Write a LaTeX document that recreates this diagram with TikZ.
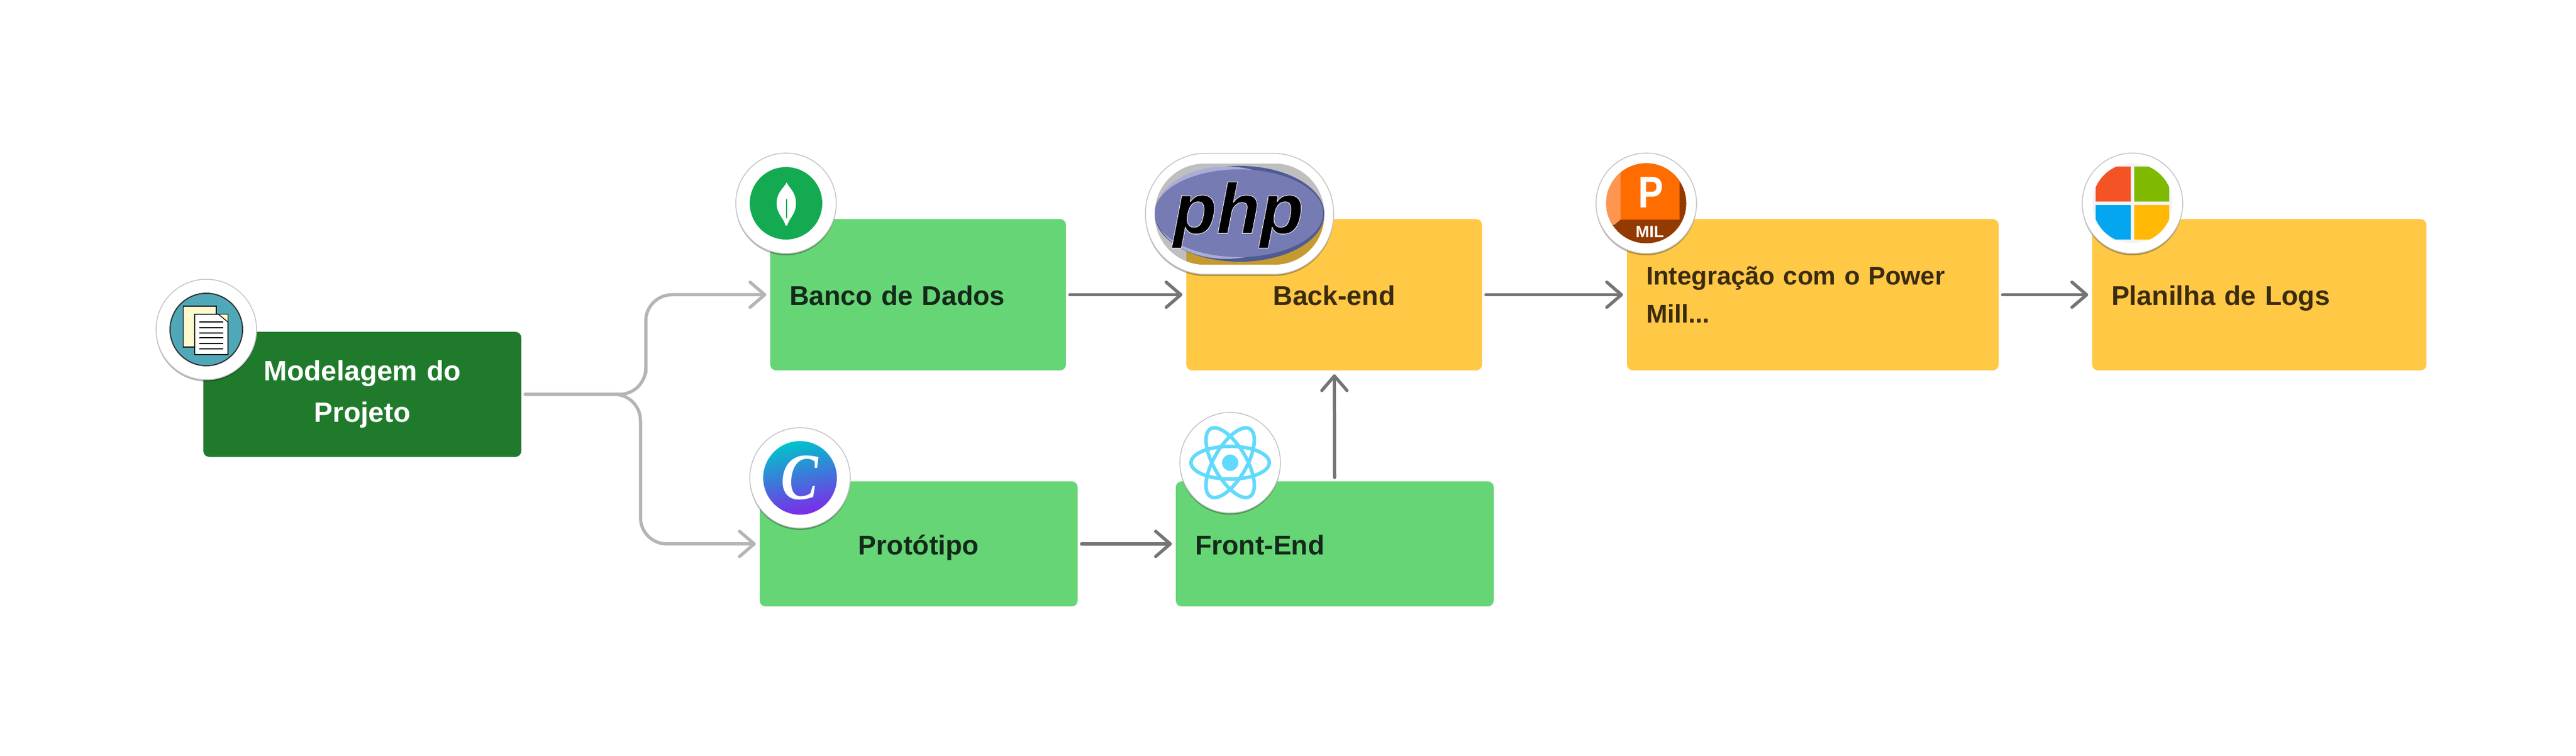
\documentclass[tikz,border=0pt]{standalone}
\usepackage{fontspec}
\setmainfont{Liberation Sans}
\newfontfamily\logofont{Liberation Serif}
\usetikzlibrary{arrows.meta,shadows}
\definecolor{darkbox}{HTML}{207A2C}
\definecolor{greenbox}{HTML}{66D575}
\definecolor{yellowbox}{HTML}{FFC845}
\definecolor{greentext}{HTML}{14291A}
\definecolor{yellowtext}{HTML}{3B2B10}
\definecolor{lightline}{HTML}{B5B5B5}
\definecolor{darkline}{HTML}{757575}
\definecolor{halo}{HTML}{C4C4C4}
\definecolor{phpblue}{HTML}{777BB3}
\definecolor{reactblue}{HTML}{61DAFB}
\definecolor{milorange}{HTML}{FF6D00}
\definecolor{milbrown}{HTML}{933A00}
\tikzset{
	basebox/.style={rectangle, rounded corners=0.1cm, inner xsep=0.33cm, inner ysep=0cm, font=\bfseries\fontsize{13.2}{18.5}\selectfont},
	lightbox/.style={basebox, fill=greenbox, text=greentext},
	sunbox/.style={basebox, fill=yellowbox, text=yellowtext},
	oneline/.style={text height=0.47cm, text depth=0.10cm},
	lightarrow/.style={-{Straight Barb[length=0.25cm,width=0.43cm,round]}, line cap=round, line width=0.055cm, color=lightline, shorten >=0.06cm, shorten <=0.06cm},
	darkarrow/.style={lightarrow, color=darkline},
	iconhalo/.style={fill=white, draw=halo, line width=0.015cm, drop shadow={shadow xshift=0cm,shadow yshift=-0.03cm,opacity=0.3,fill=black}},
	iconround/.style={iconhalo, circle, minimum size=1.72cm, inner sep=0cm}
}
\begin{document}
\begin{tikzpicture}
		\useasboundingbox (0,0) rectangle (44.08,12.94);
		%Blocchi
		\node [basebox, fill=darkbox, text=white, font=\bfseries\fontsize{13.6}{20.2}\selectfont, align=center, text width=4.78cm, minimum height=2.14cm] (modelagem) at (6.20,6.19) {Modelagem do\\Projeto};
		\node [lightbox, oneline, align=left, text width=4.40cm, minimum height=2.59cm] (banco) at (15.71,7.895) {Banco de Dados};
		\node [lightbox, oneline, align=center, text width=4.78cm, minimum height=2.14cm] (prototipo) at (15.72,3.63) {Protótipo};
		\node [sunbox, oneline, align=center, text width=4.40cm, minimum height=2.59cm] (backend) at (22.83,7.895) {Back-end};
		\node [lightbox, oneline, align=left, text width=4.78cm, minimum height=2.14cm] (frontend) at (22.84,3.63) {Front-End};
		\node [sunbox, font=\bfseries\fontsize{12.4}{18.5}\selectfont, align=left, text width=5.70cm, minimum height=2.59cm] (integracao) at (31.02,7.895) {Integração com o Power\\Mill...};
		\node [sunbox, oneline, align=left, text width=5.06cm, minimum height=2.59cm] (planilha) at (38.66,7.895) {Planilha de Logs};
		%Frecce
		\coordinate (branchup) at (11.05,7);
		\coordinate (branchdown) at (10.96,5);
		\draw [lightarrow, rounded corners=0.45cm] (modelagem.east) -| (branchup) |- (banco.west);
		\draw [lightarrow, rounded corners=0.45cm] (modelagem.east) -| (branchdown) |- (prototipo.west);
		\draw [darkarrow] (banco) -- (backend);
		\draw [darkarrow] (prototipo) -- (frontend);
		\draw [darkarrow] (frontend) -- (backend);
		\draw [darkarrow] (backend) -- (integracao);
		\draw [darkarrow] (integracao) -- (planilha);
		%Documenti
		\node [iconround] (docicon) at (3.53,7.30) {};
		\draw [fill={rgb,255:red,79;green,168;blue,184}, draw=black!80, line width=0.02cm] (docicon) circle (0.62);
		\draw [fill={rgb,255:red,255;green,250;blue,205}, line width=0.015cm] (3.135,7.70) rectangle (3.70,7.00);
		\draw [fill=white, line width=0.015cm] (3.33,7.56) -- (3.74,7.56) -- (3.90,7.43) -- (3.90,6.87) -- (3.33,6.87) -- cycle;
		\draw [fill={rgb,255:red,255;green,250;blue,205}, line width=0.01cm] (3.74,7.56) -- (3.90,7.56) -- (3.90,7.43) -- cycle;
		\foreach \y in {7.43,7.334,7.24,7.155,7.06,6.97}
			\draw [line width=0.02cm] (3.41,\y) -- (3.82,\y);
		%Foglia
		\node [iconround] (leaficon) at (13.45,9.46) {};
		\fill [color={rgb,255:red,19;green,170;blue,82}] (leaficon) circle (0.62);
		\fill [white] (13.46,9.82) .. controls (13.42,9.72) and (13.29,9.66) .. (13.29,9.46) .. controls (13.29,9.27) and (13.42,9.20) .. (13.44,9.08) -- (13.47,9.08) .. controls (13.50,9.20) and (13.62,9.27) .. (13.62,9.46) .. controls (13.62,9.66) and (13.50,9.72) .. (13.46,9.82);
		\draw [color={rgb,255:red,19;green,170;blue,82}, line width=0.012cm] (13.46,9.53) -- (13.46,9.21);
		%Canva
		\node [iconround] (canvaicon) at (13.69,4.76) {};
		\shade [top color={rgb,255:red,0;green,196;blue,204}, middle color={rgb,255:red,44;green,130;blue,222}, bottom color={rgb,255:red,125;green,42;blue,232}, shading angle=12] (canvaicon) circle (0.63);
		\node [text=white, font=\logofont\bfseries\itshape\fontsize{32}{32}\selectfont, xscale=0.85, inner sep=0cm] (canvaletter) at (13.68,4.76) {C};
		%Php
		\node [iconhalo, rectangle, rounded corners=1.03cm, minimum width=3.22cm, minimum height=2.07cm, inner sep=0cm] (phpicon) at (21.21,9.28) {};
		\begin{scope}
			\clip [rounded corners=0.85cm] (19.76,8.41) rectangle (22.66,10.14);
			\fill [color=black!25] (19.76,8.41) rectangle (22.66,10.14);
			\fill [color={rgb,255:red,197;green,154;blue,48}] (20.30,8.41) rectangle (22.66,9.19);
		\end{scope}
		\fill [color={rgb,255:red,79;green,91;blue,147}] (21.21,9.28) ellipse (1.45 and 0.82);
		\fill [color={rgb,255:red,170;green,174;blue,214}] (20.98,9.30) ellipse (1.20 and 0.79);
		\fill [color=phpblue] (21.20,9.29) ellipse (1.44 and 0.75);
		\node [font=\bfseries\itshape\fontsize{34.6}{34.6}\selectfont, text=black, inner sep=0cm] (phpletter) at (21.19,9.26) {\special{pdf:code 2 Tr 1 1 1 RG 0.25 w}php\special{pdf:code 0 Tr 0 0 0 RG}};
		%React
		\node [iconround] (reacticon) at (21.05,5.02) {};
		\foreach \a in {0,60,120}
			\draw [color=reactblue, line width=0.06cm, rotate around={\a:(21.05,5.02)}] (21.05,5.02) ellipse (0.67 and 0.28);
		\fill [color=reactblue] (reacticon) circle (0.14);
		%Power Mill
		\node [iconround] (milicon) at (28.17,9.46) {};
		\begin{scope}
			\clip (28.17,9.46) circle (0.685);
			\fill [color=milbrown] (27.4,8.7) rectangle (28.9,10.2);
			\fill [color={rgb,255:red,255;green,150;blue,80}] (27.4,10.2) -- (27.73,10.2) -- (27.73,9.18) -- (27.62,9.09) -- (27.4,9.09) -- cycle;
			\fill [color=milorange] (27.73,9.18) rectangle (28.74,10.2);
		\end{scope}
		\node [text=white, font=\bfseries\fontsize{21.6}{21.6}\selectfont, xscale=0.85, inner sep=0cm] (milp) at (28.25,9.65) {P};
		\node [text=white, font=\bfseries\fontsize{8}{8}\selectfont, inner sep=0cm] (millabel) at (28.23,8.97) {MIL};
		%Finestre
		\node [iconround] (officeicon) at (36.49,9.46) {};
		\fill [color=black!5] (officeicon) circle (0.68);
		\begin{scope}
			\clip (36.49,9.46) circle (0.686);
			\fill [color={rgb,255:red,244;green,83;blue,38}] (35.86,9.49) rectangle (36.46,10.09);
			\fill [color={rgb,255:red,127;green,186;blue,0}] (36.52,9.49) rectangle (37.12,10.09);
			\fill [color={rgb,255:red,5;green,166;blue,240}] (35.86,8.84) rectangle (36.46,9.43);
			\fill [color={rgb,255:red,255;green,185;blue,5}] (36.52,8.84) rectangle (37.12,9.43);
		\end{scope}
\end{tikzpicture}
\end{document}
